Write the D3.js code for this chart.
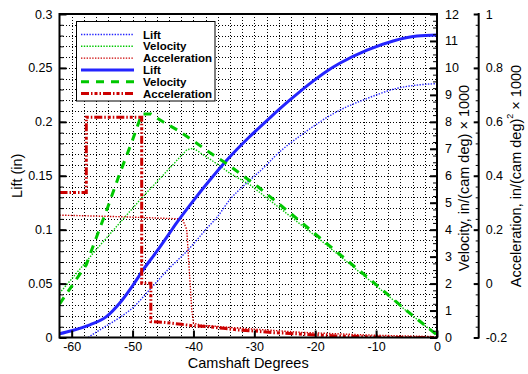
<!DOCTYPE html>
<html>
<head>
<meta charset="utf-8">
<script src="https://cdn.jsdelivr.net/npm/d3@7"></script>
<style>
body { margin: 0; background: #fff; }
svg { display: block; font-family: "Liberation Sans", Arial, sans-serif; }
</style>
</head>
<body>
<svg width="528" height="374"></svg>
<script>
// values (degrees, lift in, velocity, acceleration)
const liftThinDeg = [-57.3, -55.4, -52.1, -50, -47.1, -44, -41.1, -37.3, -36.2, -34, -31.3, -28, -26.9, -21.9, -15.9, -12.1, -6.6, 0]
const liftThin = [0, 0.007, 0.0186, 0.0274, 0.045, 0.064, 0.08, 0.1043, 0.111, 0.128, 0.143, 0.16, 0.1665, 0.1894, 0.211, 0.2203, 0.231, 0.2355]

const velThinDeg = [-62, -56, -48.8, -41.1, -40, -36, -34, -30.7, -24.4, -19.5, -10.7, -5, 0]
const velThin = [1.64, 3.25, 5.1, 6.96, 7.02, 6.42, 6.09, 5.66, 4.55, 3.68, 2.05, 0.98, 0.09]

const accThinDeg = [-62, -52, -42, -41.7, -41.1, -40.3, -40.0, -38.7, -33.2, -22.2, -11.1, 0]
const accThin = [0.254, 0.248, 0.24, 0.233, 0.2, -0.09, -0.147, -0.154, -0.164, -0.181, -0.191, -0.197]

const liftThickDeg = [-62, -60, -57, -54.3, -52.1, -50, -48.1, -46, -43.9, -42.8, -40, -37.3, -34.5, -31, -27.4, -24.1, -20.3, -18.1, -15.9, -11.5, -7.2, -3.3, 0]
const liftThick = [0.0035, 0.0063, 0.0118, 0.0193, 0.032, 0.048, 0.064, 0.08, 0.097, 0.106, 0.127, 0.146, 0.1646, 0.185, 0.204, 0.2205, 0.238, 0.247, 0.2545, 0.2665, 0.275, 0.2795, 0.2805]

const velThickDeg = [-62, -57.6, -55.9, -54, -52.1, -50.1, -48.5, -47, -45, -42.5, -39.8, -37.2, -34.5, -29.4, -24.4, -17, -10.7, -5, 0]
const velThick = [1.24, 2.7, 3.74, 4.88, 6.09, 7.26, 8.29, 8.29, 8.0, 7.68, 7.26, 6.84, 6.44, 5.59, 4.67, 3.28, 2.1, 1.0, 0.09]

const accThickDeg = [-62, -57.6, -57.6, -48.5, -48.5, -47.0, -47.0, -44.7, -42, -40.3, -37.6, -35.1, -32.6, -29.9, -27.1, -24.9, -21.9, -19.4, -16.6, -10, -6, 0]
const accThick = [0.338, 0.338, 0.617, 0.617, 0.001, 0.001, -0.141, -0.144, -0.151, -0.156, -0.16, -0.166, -0.172, -0.176, -0.182, -0.184, -0.188, -0.191, -0.194, -0.198, -0.2, -0.2]

const xTicks = [-60, -50, -40, -30, -20, -10, 0]
const liftTicks = [0, 0.05, 0.1, 0.15, 0.2, 0.25, 0.3]
const velTicks = [0, 1, 2, 3, 4, 5, 6, 7, 8, 9, 10, 11, 12]
const accTicks = [-0.2, 0, 0.2, 0.4, 0.6, 0.8, 1]
const legendNames = ["Lift", "Velocity", "Acceleration", "Lift", "Velocity", "Acceleration"]

const pLeft = 59.5, pRight = 437, pTop = 14, pBottom = 337.5
const accAxisX = 478.7

const x = d3.scaleLinear([-62, 0], [pLeft, pRight])
const yL = d3.scaleLinear([0, 0.3], [pBottom, pTop])
const yV = d3.scaleLinear([0, 12], [pBottom, pTop])
const yA = d3.scaleLinear([-0.2, 1], [pBottom, pTop])

const blue = "#2424ff", green = "#00c800", red = "#cc0000"

const svg = d3.select("svg")

svg.append("clipPath").attr("id", "plot")
  .append("rect").attr("x", pLeft).attr("y", pTop)
  .attr("width", pRight - pLeft).attr("height", pBottom - pTop)

// dotted grid
const grid = svg.append("g")
  .attr("stroke", "#000").attr("stroke-width", 1)
  .attr("stroke-dasharray", "1,2").attr("shape-rendering", "crispEdges")

grid.selectAll("line.v")
  .data(d3.range(-60, -1, 2))
  .join("line").attr("class", "v")
  .attr("x1", d => Math.round(x(d)) + 0.5).attr("x2", d => Math.round(x(d)) + 0.5)
  .attr("y1", pTop).attr("y2", pBottom)

grid.selectAll("line.h")
  .data(d3.range(1, 30).map(i => i / 100))
  .join("line").attr("class", "h")
  .attr("y1", d => Math.round(yL(d)) + 0.5).attr("y2", d => Math.round(yL(d)) + 0.5)
  .attr("x1", pLeft).attr("x2", pRight)

// series
const series = [
  {deg: liftThinDeg, val: liftThin, y: yL, color: blue, width: 1.4, dash: "1.4,1.4", curve: d3.curveMonotoneX},
  {deg: velThinDeg, val: velThin, y: yV, color: green, width: 1.4, dash: "1.4,1.4", curve: d3.curveLinear},
  {deg: accThinDeg, val: accThin, y: yA, color: red, width: 1.4, dash: "1.4,1.4", curve: d3.curveLinear},
  {deg: liftThickDeg, val: liftThick, y: yL, color: blue, width: 3, dash: null, curve: d3.curveMonotoneX},
  {deg: velThickDeg, val: velThick, y: yV, color: green, width: 3, dash: "8,7", curve: d3.curveLinear},
  {deg: accThickDeg, val: accThick, y: yA, color: red, width: 3, dash: "8,2,1.5,2,3,2,1.5,2", curve: d3.curveLinear}
]

const plot = svg.append("g").attr("clip-path", "url(#plot)")
series.forEach(s => {
  const line = d3.line()
    .x((d, i) => x(s.deg[i]))
    .y(d => s.y(d))
    .curve(s.curve)
  plot.append("path")
    .attr("d", line(s.val))
    .attr("fill", "none")
    .attr("stroke", s.color)
    .attr("stroke-width", s.width)
    .attr("stroke-dasharray", s.dash)
})

// frame
svg.append("rect")
  .attr("x", pLeft).attr("y", pTop)
  .attr("width", pRight - pLeft).attr("height", pBottom - pTop)
  .attr("fill", "none").attr("stroke", "#000").attr("stroke-width", 2)

function styleAxis(g, major) {
  g.select(".domain").remove()
  g.selectAll(".tick line").attr("stroke-width", major ? 2 : 1)
  g.selectAll("text").attr("font-size", 12.5).attr("fill", "#000")
    .attr("font-family", "'Liberation Sans', Arial, sans-serif")
}

// left lift axis
svg.append("g").attr("transform", `translate(${pLeft},0)`)
  .call(d3.axisLeft(yL).tickValues(d3.range(0, 31).map(i => i / 100)).tickSize(-4).tickFormat(""))
  .call(g => styleAxis(g, false))
svg.append("g").attr("transform", `translate(${pLeft},0)`)
  .call(d3.axisLeft(yL).tickValues(liftTicks).tickSize(-7).tickPadding(7).tickFormat(d => String(d)))
  .call(g => styleAxis(g, true))

// bottom axis
svg.append("g").attr("transform", `translate(0,${pBottom})`)
  .call(d3.axisBottom(x).tickValues(xTicks).tickSize(-7).tickPadding(5).tickFormat(d => String(d)))
  .call(g => styleAxis(g, true))

// right velocity axis
svg.append("g").attr("transform", `translate(${pRight},0)`)
  .call(d3.axisRight(yV).tickValues(d3.range(0, 49).map(i => i / 4)).tickSize(-4).tickFormat(""))
  .call(g => styleAxis(g, false))
svg.append("g").attr("transform", `translate(${pRight},0)`)
  .call(d3.axisRight(yV).tickValues(velTicks).tickSize(-7).tickPadding(8).tickFormat(d => String(d)))
  .call(g => styleAxis(g, true))

// acceleration axis
svg.append("line")
  .attr("x1", accAxisX).attr("x2", accAxisX)
  .attr("y1", pTop - 1).attr("y2", pBottom + 1)
  .attr("stroke", "#000").attr("stroke-width", 2)
svg.append("g").attr("transform", `translate(${accAxisX},0)`)
  .call(d3.axisRight(yA).tickValues(d3.range(0, 31).map(i => -0.2 + i * 0.04)).tickSize(-3).tickFormat(""))
  .call(g => styleAxis(g, false))
svg.append("g").attr("transform", `translate(${accAxisX},0)`)
  .call(d3.axisRight(yA).tickValues(accTicks).tickSize(-5).tickPadding(7).tickFormat(d => String(d)))
  .call(g => styleAxis(g, true))

// axis titles
svg.append("text")
  .attr("transform", `translate(17,${(pTop + pBottom) / 2}) rotate(-90)`)
  .attr("text-anchor", "middle").attr("dominant-baseline", "central")
  .attr("font-size", 14.5).text("Lift (in)")

svg.append("text")
  .attr("x", (pLeft + pRight) / 2).attr("y", 367.5)
  .attr("text-anchor", "middle")
  .attr("font-size", 14.5).text("Camshaft Degrees")

svg.append("text")
  .attr("transform", `translate(463.5,178) rotate(-90)`)
  .attr("text-anchor", "middle").attr("dominant-baseline", "central")
  .attr("font-size", 14.5).text("Velocity, in/(cam deg) \u00d7 1000")

const accTitle = svg.append("text")
  .attr("transform", `translate(515.5,176) rotate(-90)`)
  .attr("text-anchor", "middle").attr("dominant-baseline", "central")
  .attr("font-size", 14.5)
accTitle.append("tspan").text("Acceleration, in/(cam deg)")
accTitle.append("tspan").attr("font-size", 9).attr("dy", -6).text("2")
accTitle.append("tspan").attr("dy", 6).text(" \u00d7 1000")

// legend
const legend = svg.append("g")
legend.append("rect")
  .attr("x", 76.5).attr("y", 21.5).attr("width", 138.5).attr("height", 79.5)
  .attr("fill", "#fff").attr("stroke", "#000").attr("stroke-width", 1)

legend.selectAll("g.item")
  .data(series)
  .join("g").attr("class", "item")
  .attr("transform", (d, i) => `translate(0,${34.5 + i * 11.8})`)
  .each(function(s, i) {
    const g = d3.select(this)
    g.append("line")
      .attr("x1", 81).attr("x2", 134)
      .attr("stroke", s.color).attr("stroke-width", s.width)
      .attr("stroke-dasharray", s.dash)
    g.append("text")
      .attr("x", 143).attr("dominant-baseline", "central")
      .attr("font-size", 11.5).attr("font-weight", "bold")
      .text(legendNames[i])
  })
</script>
</body>
</html>
